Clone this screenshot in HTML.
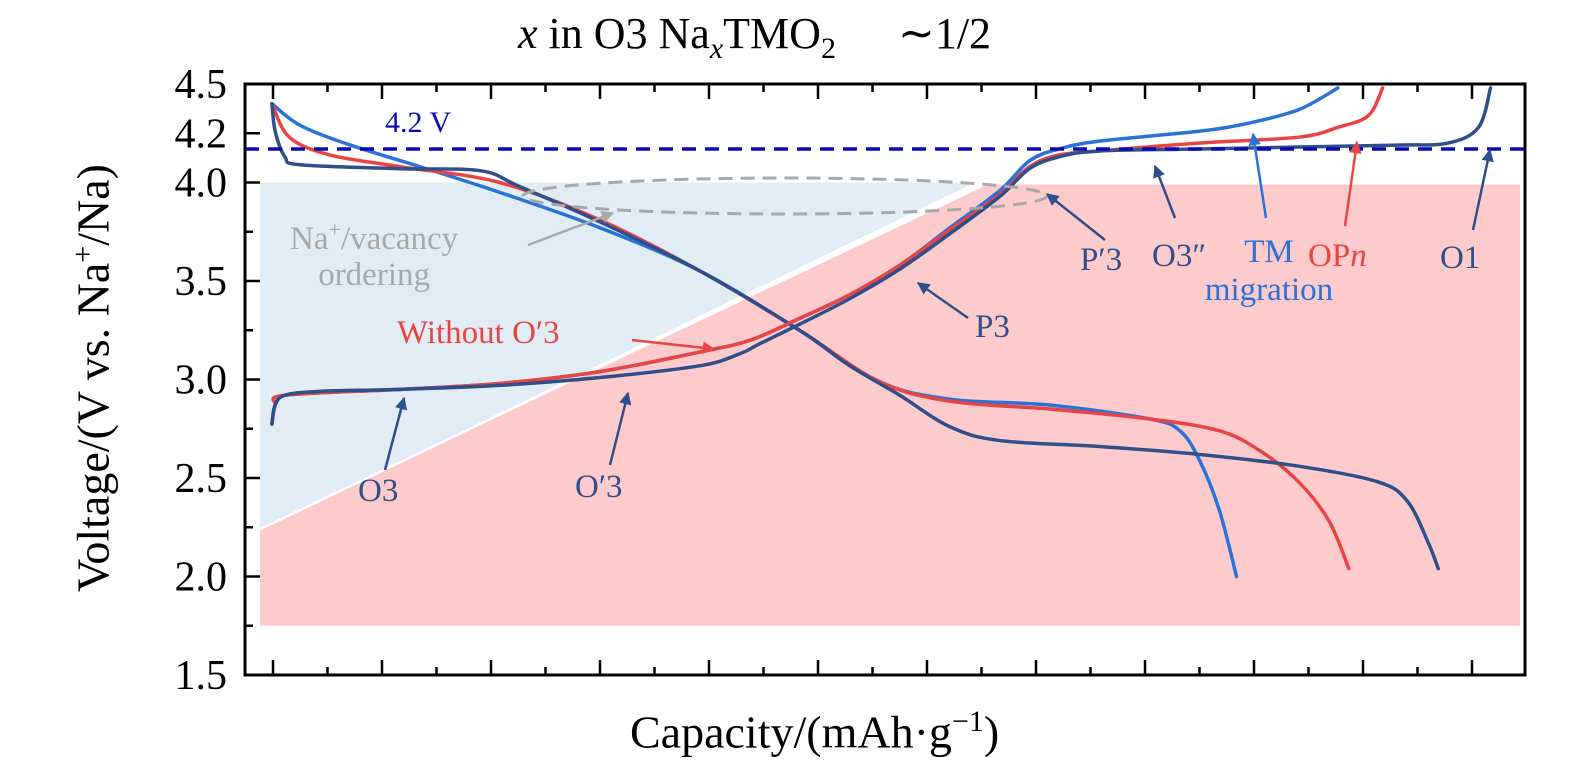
<!DOCTYPE html>
<html><head><meta charset="utf-8"><style>
html,body{margin:0;padding:0;background:#fff}
svg{display:block;font-family:"Liberation Serif",serif}
.t{font-family:"Liberation Serif",serif}
</style></head><body>
<svg id="chart" width="1575" height="773" viewBox="0 0 1575 773" xmlns="http://www.w3.org/2000/svg">
<defs>
<marker id="aNavy" viewBox="0 0 10 10" refX="9" refY="5" markerWidth="5" markerHeight="5" orient="auto"><path d="M0,0L10,5L0,10z" fill="#2e4f8a"/></marker>
<marker id="aRed" viewBox="0 0 10 10" refX="9" refY="5" markerWidth="5" markerHeight="5" orient="auto"><path d="M0,0L10,5L0,10z" fill="#e84444"/></marker>
<marker id="aBlue" viewBox="0 0 10 10" refX="9" refY="5" markerWidth="5" markerHeight="5" orient="auto"><path d="M0,0L10,5L0,10z" fill="#2a72d8"/></marker>
<marker id="aGray" viewBox="0 0 10 10" refX="9" refY="5" markerWidth="5" markerHeight="5" orient="auto"><path d="M0,0L10,5L0,10z" fill="#a8a8a8"/></marker>
</defs>
<g id="bg"></g>
<g id="marks"></g>
<g id="axes"></g>
<g id="ann"></g>
</svg>
<script>
// ---- data (capacity in tick units x10, voltage in V) ----
const yTicks = [1.5,1.75,2.0,2.25,2.5,2.75,3.0,3.25,3.5,3.75,4.0,4.25,4.5];
const yTickLabels = ["1.5","","2.0","","2.5","","3.0","","3.5","","4.0","4.2","4.5"];
const xMajorTicks = [0,10,20,30,40,50,60,70,80,90,100,110];
const xMinorTicks = [5,15,25,35,45,55,65,75,85,95,105];
const cutoffV = 4.17;
const navyChargeX = [-0.1,0.2,1.1,4.3,11.7,20.8,30,39.2,42.8,44.6,48.3,52.9,57.5,62.1,66.7,69.4,72.1,75.8,84.9,94.1,103.2,107.8,110.6,111.7];
const navyChargeV = [2.774,2.87,2.92,2.94,2.95,2.97,3.01,3.07,3.13,3.18,3.28,3.41,3.56,3.74,3.93,4.07,4.13,4.16,4.17,4.18,4.19,4.2,4.28,4.48];
const redChargeX = [-0.1,0.2,1.1,11.7,20.8,30,39.2,43.8,48.3,52.9,57.5,62.1,66.7,69.4,72.1,75.8,84.9,94.1,97.7,100.5,101.8];
const redChargeV = [2.774,2.87,2.92,2.95,2.98,3.04,3.14,3.2,3.31,3.43,3.58,3.76,3.94,4.08,4.14,4.16,4.2,4.23,4.28,4.34,4.48];
const blueChargeX = [-0.1,0.2,1.1,11.7,20.8,30,39.2,43.8,48.3,52.9,57.5,62.1,66.7,69.4,72.1,75.8,84.9,89.4,94.1,97.7];
const blueChargeV = [2.774,2.87,2.92,2.95,2.98,3.04,3.14,3.2,3.31,3.43,3.58,3.77,3.96,4.11,4.17,4.21,4.26,4.3,4.37,4.48];
const navyDisX = [-0.1,0.2,1.1,2.5,11.7,19,22.6,30,39.2,48.3,52.9,57.5,62.1,66.7,75.8,84.9,94.1,101.4,104.1,106,106.9];
const navyDisV = [4.4,4.26,4.13,4.09,4.07,4.06,3.98,3.8,3.55,3.25,3.07,2.92,2.76,2.69,2.66,2.62,2.56,2.48,2.38,2.17,2.04];
const redDisX = [-0.1,1.5,5.2,11.7,20.8,30,39.2,48.3,55.6,62.1,71.3,80.4,86.8,90.5,94.1,96.9,98.7];
const redDisV = [4.4,4.23,4.14,4.08,4.0,3.81,3.55,3.25,2.99,2.89,2.85,2.8,2.74,2.64,2.48,2.28,2.04];
const blueDisX = [-0.1,2.5,7.1,13.5,20.8,30,39.2,48.3,55.6,62.1,71.3,80.4,83.2,85,86.8,88.4];
const blueDisV = [4.4,4.29,4.19,4.08,3.95,3.77,3.55,3.25,2.99,2.9,2.87,2.8,2.74,2.59,2.34,2.0];

// ---- axes ----
const L=245,R=1525,T=84,B=675;
const X0=273,XS=10.9;
function sx(v){return X0+v*XS;}
function sy(v){return B-(v-1.5)*197;}
const NS="http://www.w3.org/2000/svg";
function mk(tag,attrs,parent){const e=document.createElementNS(NS,tag);for(const k in attrs)e.setAttribute(k,attrs[k]);parent.appendChild(e);return e;}
const bg=document.getElementById('bg'),marks=document.getElementById('marks'),axes=document.getElementById('axes'),ann=document.getElementById('ann');

let p=mk('polygon',{points:`260,${sy(4.0)} 975,${sy(4.0)} 260,${sy(2.24)}`,fill:'#e1ecf4'},bg);

p=mk('polygon',{points:`260,${sy(2.24)} 988,${sy(3.99)} 1520,${sy(3.99)} 1520,${sy(1.75)} 260,${sy(1.75)}`,fill:'#fdcbcb'},bg);

p=mk('line',{x1:260,y1:sy(2.24),x2:985,y2:sy(4.0),stroke:'#fff','stroke-width':2.5},bg);


function curve(xs,vs,color,name){
  const pts=xs.map((x,i)=>[sx(x),sy(vs[i])]);
  let d=`M${pts[0][0]},${pts[0][1]}`;
  for(let i=0;i<pts.length-1;i++){
    const p0=pts[Math.max(0,i-1)],p1=pts[i],p2=pts[i+1],p3=pts[Math.min(pts.length-1,i+2)];
    const c1x=p1[0]+(p2[0]-p0[0])/6,c1y=p1[1]+(p2[1]-p0[1])/6,c2x=p2[0]-(p3[0]-p1[0])/6,c2y=p2[1]-(p3[1]-p1[1])/6;
    d+=` C${c1x},${c1y} ${c2x},${c2y} ${p2[0]},${p2[1]}`;
  }
  const e=mk('path',{d:d,fill:'none',stroke:color,'stroke-width':3.5,'stroke-linecap':'round'},marks);
  
  
}
curve(blueDisX,blueDisV,'#2a72d8','blue-discharge-curve');
curve(redDisX,redDisV,'#e84444','red-discharge-curve');
curve(navyDisX,navyDisV,'#2e4f8a','navy-discharge-curve');
curve(blueChargeX,blueChargeV,'#2a72d8','blue-charge-curve');
curve(redChargeX,redChargeV,'#e84444','red-charge-curve');
curve(navyChargeX,navyChargeV,'#2e4f8a','navy-charge-curve');

let e=mk('line',{x1:L,x2:R,y1:sy(cutoffV),y2:sy(cutoffV),stroke:'#0a0ab4','stroke-width':3.5,'stroke-dasharray':'14,9'},marks);

e=mk('ellipse',{cx:785,cy:196,rx:262,ry:18,fill:'none',stroke:'#a8a8a8','stroke-width':3,'stroke-dasharray':'14,8'},marks);


e=mk('path',{d:`M${L},${T}H${R}V${B}H${L}Z`,fill:'none',stroke:'#000','stroke-width':3},axes);

yTicks.forEach((v,i)=>{
  const major=yTickLabels[i]!=="";
  const t=mk('line',{x1:L,x2:L+(major?15:8),y1:sy(v),y2:sy(v),stroke:'#000','stroke-width':2.5},axes);
  
  if(major){const tx=mk('text',{x:L-18,y:sy(v)+14,'text-anchor':'end','font-size':42,'font-family':'Liberation Serif, serif'},axes);tx.textContent=yTickLabels[i];
    }
});
xMajorTicks.forEach(v=>{
  [[B,-1],[T,1]].forEach(([y,dir])=>{
    const t=mk('line',{x1:sx(v),x2:sx(v),y1:y,y2:y+dir*15,stroke:'#000','stroke-width':2.5},axes);
    
  });
});
xMinorTicks.forEach(v=>{
  [[B,-1],[T,1]].forEach(([y,dir])=>{
    const t=mk('line',{x1:sx(v),x2:sx(v),y1:y,y2:y+dir*8,stroke:'#000','stroke-width':2.5},axes);
    
  });
});

function arrow(x1,y1,x2,y2,color,m,name){
  const a=mk('line',{x1:x1,y1:y1,x2:x2,y2:y2,stroke:color,'stroke-width':2.5,'marker-end':`url(#${m})`},ann);
  
  
}
const NV='#2e4f8a',RD='#e84444',BL='#2a72d8',GR='#a8a8a8';
arrow(528,245,613,213,GR,'aGray','ordering-arrow');
arrow(632,340,714,349,RD,'aRed','without-o3-arrow');
arrow(968,318,918,283,NV,'aNavy','p3-arrow');
arrow(385,470,404,398,NV,'aNavy','o3-arrow');
arrow(610,465,628,393,NV,'aNavy','o-prime-3-arrow');
arrow(1105,240,1047,194,NV,'aNavy','p-prime-3-arrow');
arrow(1175,218,1155,166,NV,'aNavy','o3-double-prime-arrow');
arrow(1266,218,1253,134,BL,'aBlue','tm-migration-arrow');
arrow(1345,226,1357,142,RD,'aRed','opn-arrow');
arrow(1473,230,1490,150,NV,'aNavy','o1-arrow');
</script>
<div class="t" style="position:absolute;left:0;top:0;width:1575px;height:773px;pointer-events:none">
  <div style="position:absolute;left:518px;top:8px;font-size:44px;white-space:nowrap"><i>x</i> in O3 Na<sub style="font-size:30px"><i>x</i></sub>TMO<sub style="font-size:30px">2</sub><span style="margin-left:62px">∼1/2</span></div>
  <div style="position:absolute;left:93px;top:378px;transform:translate(-50%,-50%) rotate(-90deg);font-size:46px;white-space:nowrap">Voltage/(V vs. Na<sup style="font-size:30px">+</sup>/Na)</div>
  <div style="position:absolute;left:630px;top:705px;font-size:46px;white-space:nowrap">Capacity/(mAh·g<sup style="font-size:30px">−1</sup>)</div>
  <div style="position:absolute;left:385px;top:106px;font-size:30px;color:#0a0ab4">4.2 V</div>
  <div style="position:absolute;left:290px;top:212px;font-size:33px;color:#a8a8a8;text-align:center;line-height:36px">Na<sup style="font-size:22px">+</sup>/vacancy<br>ordering</div>
  <div style="position:absolute;left:397px;top:315px;font-size:33px;color:#e84444">Without O′3</div>
  <div style="position:absolute;left:975px;top:309px;font-size:33px;color:#2e4f8a">P3</div>
  <div style="position:absolute;left:358px;top:473px;font-size:33px;color:#2e4f8a">O3</div>
  <div style="position:absolute;left:575px;top:469px;font-size:33px;color:#2e4f8a">O′3</div>
  <div style="position:absolute;left:1080px;top:242px;font-size:33px;color:#2e4f8a">P′3</div>
  <div style="position:absolute;left:1152px;top:238px;font-size:33px;color:#2e4f8a">O3″</div>
  <div style="position:absolute;left:1184px;top:233px;width:170px;text-align:center;font-size:33px;line-height:38px;color:#2a72d8">TM<br>migration</div>
  <div style="position:absolute;left:1308px;top:238px;font-size:33px;color:#e84444">OP<i>n</i></div>
  <div style="position:absolute;left:1440px;top:240px;font-size:33px;color:#2e4f8a">O1</div>
</div>
</body></html>
